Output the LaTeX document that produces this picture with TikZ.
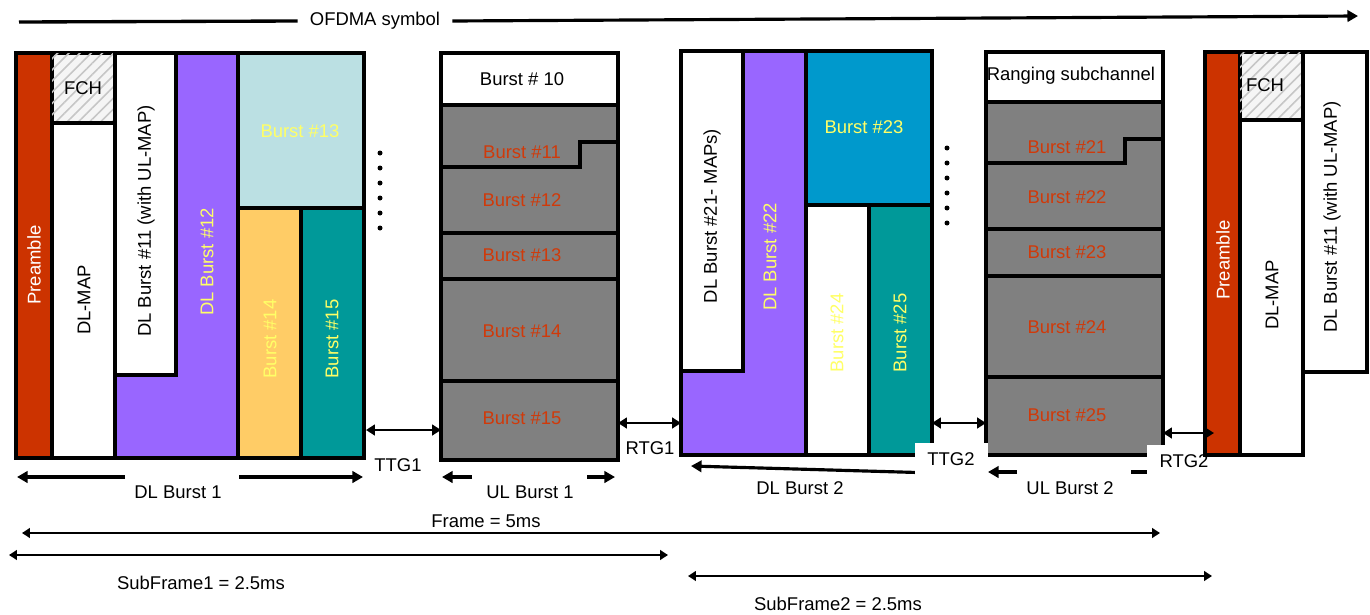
\documentclass[tikz,border=0pt]{standalone}
\usepackage{fontspec}
\setmainfont{Liberation Sans}
\usetikzlibrary{arrows.meta,patterns.meta}

\definecolor{prered}{HTML}{CC3300}
\definecolor{dlpurple}{HTML}{9966FF}
\definecolor{lightblue}{HTML}{BBE0E3}
\definecolor{burstorange}{HTML}{FFCC66}
\definecolor{burstteal}{HTML}{009999}
\definecolor{burstblue}{HTML}{0099CC}
\definecolor{ulgray}{HTML}{808080}
\definecolor{txtyellow}{HTML}{FFFF66}
\definecolor{txtred}{HTML}{D03A0A}

\tikzset{
  cell/.style={draw=black, line width=1.9pt},
  fch/.style={cell, fill=gray!8, postaction={pattern={Lines[angle=45,distance=4.5pt,line width=0.9pt]}, pattern color=gray!45}},
  txt/.style={font=\fontsize{10.5}{12}\selectfont, inner sep=0pt},
  vtxt/.style={txt, rotate=90},
  gaplbl/.style={txt, fill=white},
  thickarr/.style={line width=1.8pt, -{Triangle[length=6pt,width=6.5pt]}},
  gaparr/.style={line width=1.3pt, {Triangle[length=5pt,width=6pt]}-{Triangle[length=5pt,width=6pt]}},
  framearr/.style={line width=1.1pt, {Triangle[length=4.5pt,width=5.5pt]}-{Triangle[length=4.5pt,width=5.5pt]}}
}

\begin{document}
\begin{tikzpicture}[x=0.2mm,y=-0.2mm]
  \useasboundingbox (0,0) rectangle (1370,614);

  % OFDMA symbol:
  \coordinate (topl) at (19,22);
  \coordinate (topr) at (1358,16);
  \node[txt, inner xsep=2.4mm] (ofdma) at (375,21) {OFDMA symbol};
  \draw[line width=1.9pt] (topl) -- (ofdma.west);
  \draw[thickarr] (ofdma.east) -- (topr);

  % DL Teil 1:
  \filldraw[cell, fill=prered] (16,53) rectangle (52,458);
  \draw[fch] (52,53) rectangle (115,123);
  \filldraw[cell, fill=white] (52,123) rectangle (115,458);
  \filldraw[cell, fill=dlpurple] (115,53) rectangle (238,458);
  \filldraw[cell, fill=white] (115,53) rectangle (176,375);
  \filldraw[cell, fill=lightblue] (238,53) rectangle (364,208);
  \filldraw[cell, fill=burstorange] (238,208) rectangle (301,458);
  \filldraw[cell, fill=burstteal] (301,208) rectangle (364,458);
  \node[vtxt, white] (pre1) at (34,265) {Preamble};
  \node[txt] (fch1) at (83,88) {FCH};
  \node[vtxt] (dlmap1) at (84,300) {DL-MAP};
  \node[vtxt] (dl11) at (146,221) {DL Burst \#11 (with UL-MAP)};
  \node[vtxt, txtyellow] (dl12) at (207,262) {DL Burst \#12};
  \node[txt, txtyellow] (b13) at (300,131) {Burst \#13};
  \node[vtxt, txtyellow] (b14) at (270,339) {Burst \#14};
  \node[vtxt, txtyellow] (b15) at (332,339) {Burst \#15};
  \foreach \y in {153,168,...,228}
    \fill (380,\y) circle (2.5);

  % UL Teil 1:
  \filldraw[cell, fill=white] (441,53) rectangle (618,105);
  \filldraw[cell, fill=ulgray] (441,105) rectangle (618,460);
  \draw[cell] (441,167) -- (580,167) -- (580,142) -- (618,142);
  \draw[cell] (441,233) -- (618,233);
  \draw[cell] (441,279) -- (618,279);
  \draw[cell] (441,381) -- (618,381);
  \node[txt] (ub10) at (522,79) {Burst \# 10};
  \node[txt, txtred] (ub11) at (522,152) {Burst \#11};
  \node[txt, txtred] (ub12) at (522,200) {Burst \#12};
  \node[txt, txtred] (ub13) at (522,255) {Burst \#13};
  \node[txt, txtred] (ub14) at (522,331) {Burst \#14};
  \node[txt, txtred] (ub15) at (522,418) {Burst \#15};

  % DL Teil 2:
  \filldraw[cell, fill=dlpurple] (681,51) rectangle (806,455);
  \filldraw[cell, fill=white] (681,51) rectangle (743,371);
  \filldraw[cell, fill=burstblue] (806,51) rectangle (932,205);
  \filldraw[cell, fill=white] (806,205) rectangle (869,455);
  \filldraw[cell, fill=burstteal] (869,205) rectangle (932,455);
  \node[vtxt] (dl21) at (712,216) {DL Burst \#21- MAPs)};
  \node[vtxt, txtyellow] (dl22) at (770,257) {DL Burst \#22};
  \node[txt, txtyellow] (b23) at (864,127) {Burst \#23};
  \node[vtxt, txtyellow] (b24) at (837,333) {Burst \#24};
  \node[vtxt, txtyellow] (b25) at (900,333) {Burst \#25};
  \foreach \y in {148,163,...,223}
    \fill (947,\y) circle (2.5);

  % UL Teil 2:
  \filldraw[cell, fill=white] (986,52) rectangle (1163,102);
  \filldraw[cell, fill=ulgray] (986,102) rectangle (1163,455);
  \draw[cell] (986,163) -- (1125,163) -- (1125,139) -- (1163,139);
  \draw[cell] (986,229) -- (1163,229);
  \draw[cell] (986,276) -- (1163,276);
  \draw[cell] (986,377) -- (1163,377);
  \node[txt] (rng) at (1071,76) {Ranging subchannel};
  \node[txt, txtred] (ub21) at (1067,147) {Burst \#21};
  \node[txt, txtred] (ub22) at (1067,197) {Burst \#22};
  \node[txt, txtred] (ub23) at (1067,252) {Burst \#23};
  \node[txt, txtred] (ub24) at (1067,327) {Burst \#24};
  \node[txt, txtred] (ub25) at (1067,415) {Burst \#25};

  % Luecken:
  \coordinate (ttg1l) at (366,430);
  \coordinate (ttg1r) at (441,430);
  \coordinate (rtg1l) at (618,423);
  \coordinate (rtg1r) at (681,423);
  \coordinate (ttg2l) at (932,423);
  \coordinate (ttg2r) at (986,423);
  \coordinate (rtg2l) at (1163,433);
  \coordinate (rtg2r) at (1214,433);
  \draw[gaparr] (ttg1l) -- (ttg1r);
  \draw[gaparr] (rtg1l) -- (rtg1r);
  \draw[gaparr] (ttg2l) -- (ttg2r);
  \node[txt] (ttg1) at (398,465) {TTG1};
  \node[txt] (rtg1) at (650,448) {RTG1};

  % Burst-Pfeile:
  \coordinate (dl1a) at (125,477);
  \coordinate (dl1b) at (17,477);
  \coordinate (dl1c) at (239,477);
  \coordinate (dl1d) at (363,477);
  \draw[thickarr] (dl1a) -- (dl1b);
  \draw[thickarr] (dl1c) -- (dl1d);
  \node[txt] (dlb1) at (178,492) {DL Burst 1};
  \coordinate (ul1a) at (472,477);
  \coordinate (ul1b) at (442,477);
  \coordinate (ul1c) at (587,477);
  \coordinate (ul1d) at (615,477);
  \draw[thickarr] (ul1a) -- (ul1b);
  \draw[thickarr] (ul1c) -- (ul1d);
  \node[txt] (ulb1) at (530,492) {UL Burst 1};
  \coordinate (dl2a) at (935,473);
  \coordinate (dl2b) at (691,466);
  \draw[thickarr] (dl2a) -- (dl2b);
  \node[txt] (dlb2) at (800,488) {DL Burst 2};
  \coordinate (ul2a) at (1017,472);
  \coordinate (ul2b) at (988,472);
  \coordinate (ul2c) at (1131,472);
  \coordinate (ul2d) at (1160,472);
  \draw[thickarr] (ul2a) -- (ul2b);
  \draw[line width=1.8pt] (ul2c) -- (ul2d);
  \node[txt] (ulb2) at (1070,488) {UL Burst 2};

  % TTG2 und RTG2 mit weissem Feld:
  \node[gaplbl, minimum width=14.6mm, minimum height=6.6mm] (ttg2) at (951,459) {TTG2};
  \node[gaplbl, minimum width=15mm, minimum height=6.4mm] (rtg2) at (1184,461) {RTG2};

  % naechster Frame:
  \filldraw[cell, fill=prered] (1205,52) rectangle (1240,455);
  \draw[fch] (1240,52) rectangle (1303,120);
  \filldraw[cell, fill=white] (1240,120) rectangle (1303,455);
  \filldraw[cell, fill=white] (1303,52) rectangle (1367,372);
  \node[vtxt, white] (pre2) at (1223,260) {Preamble};
  \node[txt] (fch2) at (1265,85) {FCH};
  \node[vtxt] (dlmap2) at (1272,295) {DL-MAP};
  \node[vtxt] (dl11b) at (1332,217) {DL Burst \#11 (with UL-MAP)};
  \draw[gaparr] (rtg2l) -- (rtg2r);

  % Frame und SubFrames:
  \coordinate (fra) at (22,533);
  \coordinate (frb) at (1160,533);
  \draw[framearr] (fra) -- (frb);
  \node[txt] (frame) at (486,521) {Frame = 5ms};
  \coordinate (sf1a) at (9,555);
  \coordinate (sf1b) at (668,555);
  \draw[framearr] (sf1a) -- (sf1b);
  \node[txt] (sub1) at (201,583) {SubFrame1 = 2.5ms};
  \coordinate (sf2a) at (688,576);
  \coordinate (sf2b) at (1212,576);
  \draw[framearr] (sf2a) -- (sf2b);
  \node[txt] (sub2) at (838,604) {SubFrame2 = 2.5ms};
\end{tikzpicture}
\end{document}
